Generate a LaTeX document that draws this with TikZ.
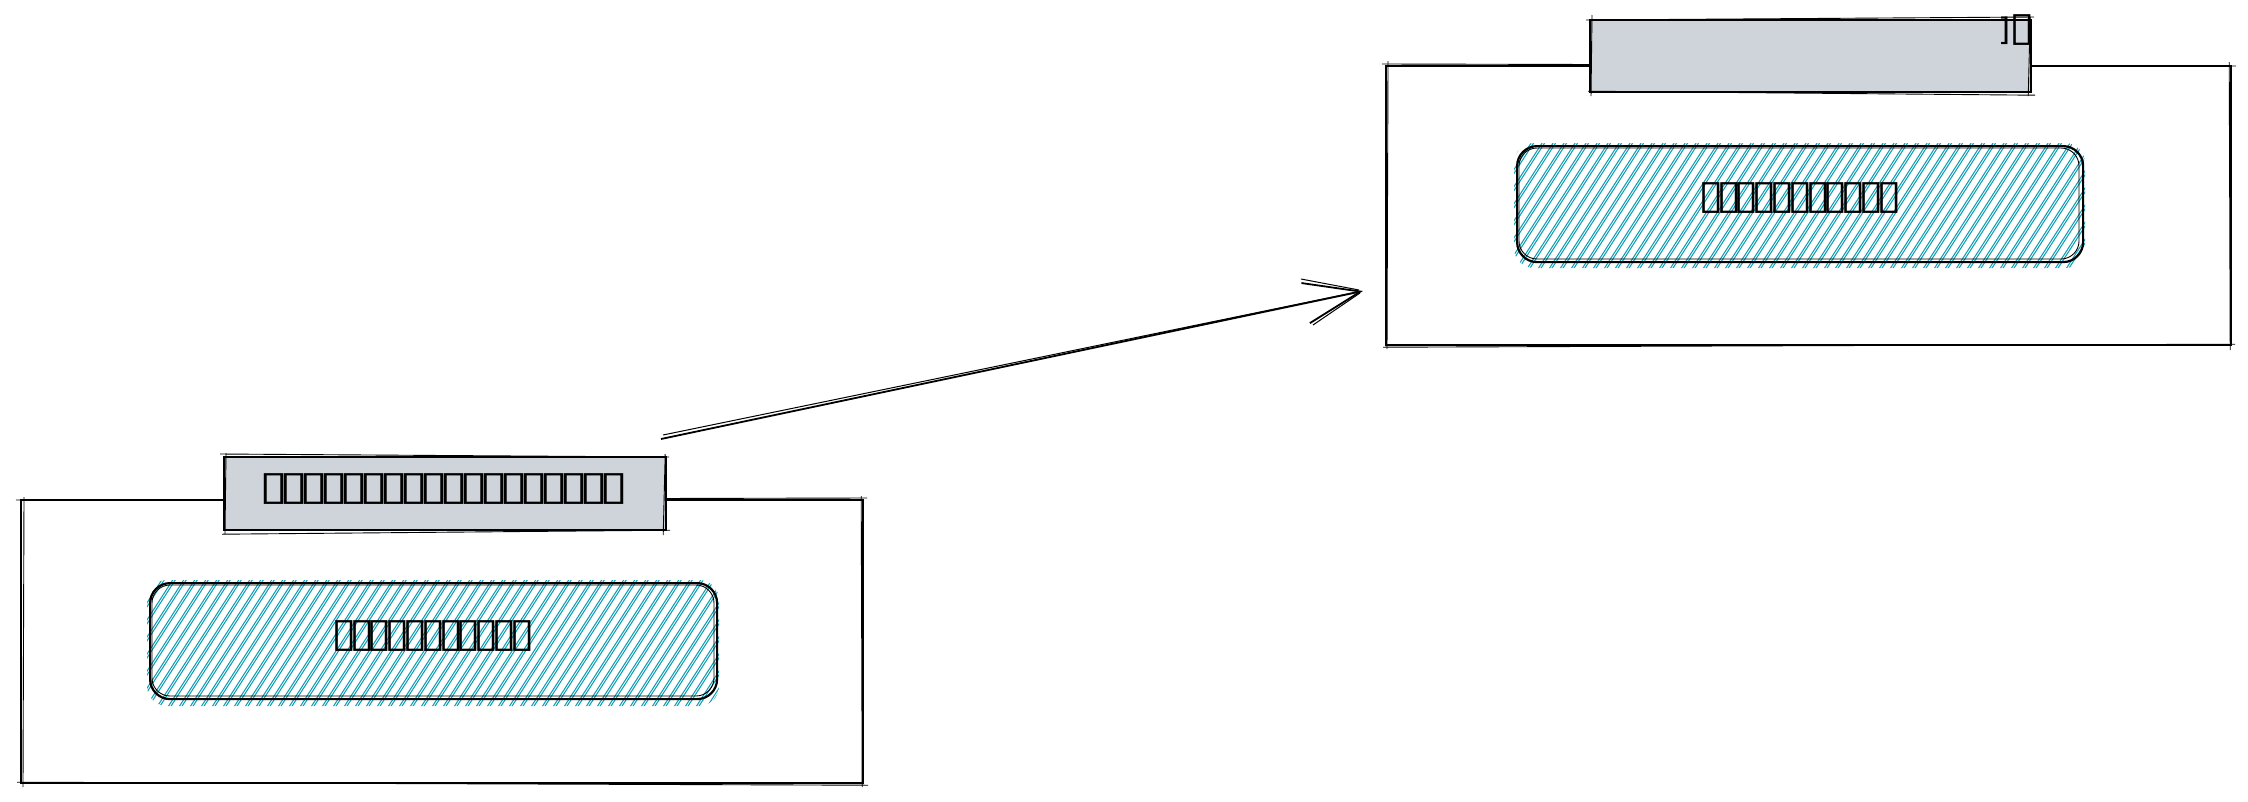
\documentclass[tikz,border=0pt]{standalone}
\usepackage{graphicx}
\usepackage{fontspec}
\setmainfont{DejaVu Sans}
\usetikzlibrary{arrows.meta,calc}
\definecolor{labgray}{HTML}{CED4DA}
\definecolor{hatchc}{HTML}{109EB4}
\newcommand\tfa{\makebox[20pt]{\scalebox{1.7}[1.3]{▯}}}
\newcommand\tfb{\makebox[17.8pt]{\scalebox{1.5}[1.3]{▯}}}
\begin{document}
\begin{tikzpicture}[x=1pt,y=-1pt,
  outerbox/.style={draw=black,line width=2.2pt,minimum width=#1,inner sep=0pt,anchor=north west},
  labelbox/.style={fill=labgray,draw=black,line width=2.2pt,inner sep=0pt,anchor=north west},
  innerbox/.style={draw=black,line width=2.2pt,rounded corners=20pt,inner sep=0pt,anchor=north west},
  rough/.style={black,line width=0.9pt},
  hatchline/.style={hatchc,line width=1.05pt},
  txt/.style={font=\fontsize{31}{36}\selectfont,inner sep=0pt}]
\useasboundingbox (0,0) rectangle (2248,801);
\fill[white] (0,0) rectangle (2248,801);

% ---------- left group ----------
\node[outerbox=842pt,minimum height=283pt] (lo) at (20,499) {};
\draw[rough] ($(lo.north west)+(-4,1)$) -- ($(lo.north east)+(3,-1)$);
\draw[rough] ($(lo.south west)+(-3,-2)$) -- ($(lo.south east)+(4,1)$);
\draw[rough] ($(lo.north west)+(4,-2)$) -- ($(lo.south west)+(3,3)$);
\draw[rough] ($(lo.north east)+(-3,-3)$) -- ($(lo.south east)+(-2,3)$);

\begin{scope}
  \clip[rounded corners=20pt] (147,580) rectangle (719,706);
  \foreach \x in {-120,-109,...,740} {
    \draw[hatchline] (\x,710) -- ++(85,-132);
    \draw[hatchline] (\x+2.5,710) -- ++(85,-132);
  }
\end{scope}
\node[innerbox,minimum width=567pt,minimum height=116pt] (li) at (149,582) {};
\draw[rough,rounded corners=18pt] (152,585) rectangle (714,696);
\node[txt] (lit) at (433,636) {\tfb\tfb\tfb\tfb\tfb\tfb\tfb\tfb\tfb\tfb\tfb};

\node[labelbox,minimum width=442pt,minimum height=73pt] (ll) at (223,456) {};
\draw[rough] ($(ll.north west)+(-3,-2)$) -- ($(ll.north east)+(2,1)$);
\draw[rough] ($(ll.south west)+(-1,3)$) -- ($(ll.south east)+(3,-1)$);
\draw[rough] ($(ll.north west)+(3,-3)$) -- ($(ll.south west)+(2,3)$);
\draw[rough] ($(ll.north east)+(-2,-2)$) -- ($(ll.south east)+(-4,4)$);
\node[txt] (llt) at (444,489) {\tfa\tfa\tfa\tfa\tfa\tfa\tfa\tfa\tfa\tfa\tfa\tfa\tfa\tfa\tfa\tfa\tfa\tfa};

% ---------- right group ----------
\node[outerbox=845pt,minimum height=279pt] (ro) at (1385,65) {};
\draw[rough] ($(ro.north west)+(-3,-1)$) -- ($(ro.north east)+(4,1)$);
\draw[rough] ($(ro.south west)+(-2,1)$) -- ($(ro.south east)+(3,-2)$);
\draw[rough] ($(ro.north west)+(3,-4)$) -- ($(ro.south west)+(2,3)$);
\draw[rough] ($(ro.north east)+(-3,-3)$) -- ($(ro.south east)+(-2,4)$);

\begin{scope}
  \clip[rounded corners=20pt] (1514,143) rectangle (2085,268);
  \foreach \x in {1250,1261,...,2100} {
    \draw[hatchline] (\x,272) -- ++(85,-132);
    \draw[hatchline] (\x+2.5,272) -- ++(85,-132);
  }
\end{scope}
\node[innerbox,minimum width=566pt,minimum height=116pt] (ri) at (1516,145) {};
\draw[rough,rounded corners=18pt] (1519,148) rectangle (2079,259);
\node[txt] (rit) at (1800,198) {\tfb\tfb\tfb\tfb\tfb\tfb\tfb\tfb\tfb\tfb\tfb};

\node[labelbox,minimum width=441pt,minimum height=72pt] (rl) at (1589,19) {};
\draw[rough] ($(rl.north west)+(-3,1)$) -- ($(rl.north east)+(2,-2)$);
\draw[rough] ($(rl.south west)+(-1,-2)$) -- ($(rl.south east)+(3,2)$);
\draw[rough] ($(rl.north west)+(3,-4)$) -- ($(rl.south west)+(2,3)$);
\draw[rough] ($(rl.north east)+(-2,-2)$) -- ($(rl.south east)+(-4,3)$);
\node[txt,anchor=east] (rlt) at (2031,30) {]\hspace{3pt}\makebox[17pt]{\scalebox{1.5}[1.3]{▯}}};

% ---------- arrow ----------
\coordinate (a1) at (661,439);
\coordinate (a2) at (1363,291);
\draw[line width=1.8pt,-{Straight Barb[length=56pt,width=41pt,line width=1.8pt]}] (a1) -- (a2);
\draw[line width=1pt] ($(a1)+(2,-4)$) -- ($(a2)+(-6,1)$);
\draw[line width=1pt] ($(a2)+(-4,-1)$) -- ($(a2)+(-62,-12)$);
\draw[line width=1pt] ($(a2)+(-3,2)$) -- ($(a2)+(-50,34)$);
\end{tikzpicture}
\end{document}
